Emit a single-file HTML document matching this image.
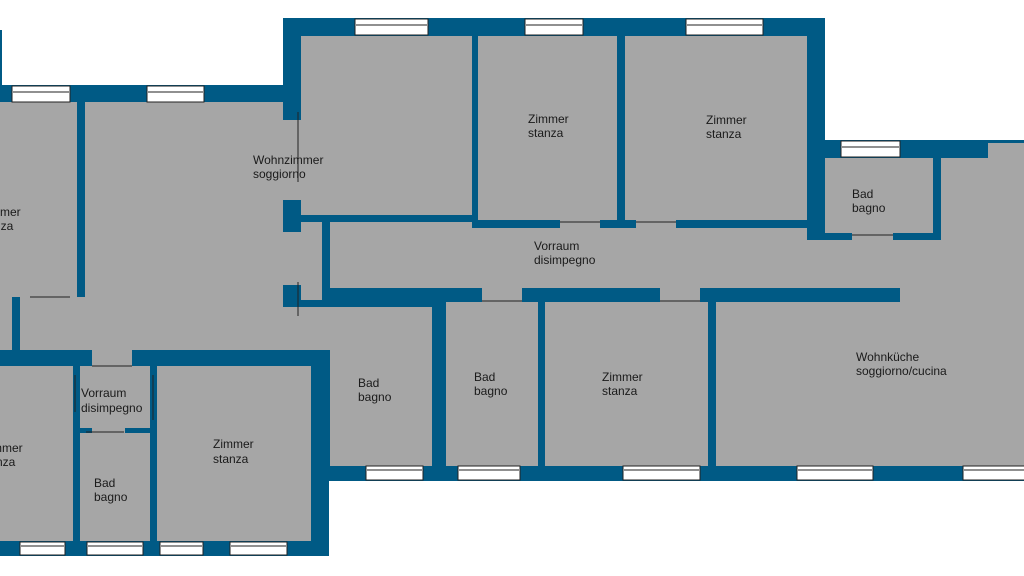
<!DOCTYPE html>
<html><head><meta charset="utf-8"><style>
html,body{margin:0;padding:0;background:#fff;}
svg{display:block;}
text{font-family:"Liberation Sans",sans-serif;font-size:12px;fill:#1a1a1a;}
</style></head><body>
<svg width="1024" height="576" viewBox="0 0 1024 576" xmlns="http://www.w3.org/2000/svg">
<rect width="1024" height="576" fill="#fff"/>
<g fill="#005a85">
<rect x="0" y="85" width="329" height="471"/>
<rect x="283" y="18" width="542" height="289"/>
<rect x="807" y="140" width="217" height="341"/>
<rect x="329" y="288" width="695" height="193"/>
<rect x="0" y="30" width="2" height="55"/>
</g>
<g fill="#a6a6a6">
<rect x="0" y="102" width="77" height="195"/>
<rect x="85" y="102" width="198" height="248"/>
<rect x="20" y="297" width="263" height="53"/>
<rect x="0" y="297" width="12" height="53"/>
<rect x="283" y="120" width="18" height="80"/>
<rect x="283" y="232" width="18" height="53"/>
<rect x="283" y="307" width="18" height="43"/>
<rect x="301" y="36" width="171" height="179"/>
<rect x="478" y="36" width="139" height="184"/>
<rect x="625" y="36" width="182" height="184"/>
<rect x="330" y="228" width="477" height="60"/>
<rect x="330" y="222" width="142" height="6"/>
<rect x="301" y="222" width="21" height="78"/>
<rect x="807" y="240" width="134" height="48"/>
<rect x="900" y="288" width="41" height="14"/>
<rect x="560" y="220" width="40" height="8"/>
<rect x="636" y="220" width="40" height="8"/>
<rect x="825" y="158" width="108" height="75"/>
<rect x="852" y="233" width="41" height="7"/>
<rect x="941" y="158" width="83" height="308"/>
<rect x="716" y="302" width="308" height="164"/>
<rect x="988" y="143" width="36" height="15"/>
<rect x="330" y="307" width="102" height="159"/>
<rect x="301" y="307" width="29" height="43"/>
<rect x="446" y="302" width="92" height="164"/>
<rect x="482" y="288" width="40" height="14"/>
<rect x="545" y="302" width="163" height="164"/>
<rect x="660" y="288" width="40" height="14"/>
<rect x="0" y="366" width="73" height="175"/>
<rect x="80" y="366" width="70" height="66"/>
<rect x="92" y="350" width="40" height="16"/>
<rect x="80" y="433" width="70" height="108"/>
<rect x="92" y="428" width="33" height="5"/>
<rect x="157" y="366" width="154" height="175"/>
</g>
<g fill="#005a85">
<rect x="80" y="428" width="12" height="5"/>
<rect x="125" y="428" width="25" height="5"/>
</g>
<g fill="#fff" stroke="#222" stroke-width="1">
<rect x="355" y="19" width="73" height="16"/>
<rect x="525" y="19" width="58" height="16"/>
<rect x="686" y="19" width="77" height="16"/>
<rect x="12" y="86" width="58" height="16"/>
<rect x="147" y="86" width="57" height="16"/>
<rect x="841" y="141" width="59" height="16"/>
<rect x="366" y="466" width="57" height="14"/>
<rect x="458" y="466" width="62" height="14"/>
<rect x="623" y="466" width="77" height="14"/>
<rect x="797" y="466" width="76" height="14"/>
<rect x="963" y="466" width="62" height="14"/>
<rect x="20" y="542" width="45" height="13"/>
<rect x="87" y="542" width="56" height="13"/>
<rect x="160" y="542" width="43" height="13"/>
<rect x="230" y="542" width="57" height="13"/>
</g>
<g stroke="#222" stroke-width="1">
<line x1="13" y1="92" x2="69" y2="92"/><line x1="148" y1="92" x2="203" y2="92"/>
<line x1="356" y1="25" x2="427" y2="25"/><line x1="526" y1="25" x2="582" y2="25"/><line x1="687" y1="25" x2="762" y2="25"/>
<line x1="842" y1="147" x2="899" y2="147"/>
<line x1="367" y1="470" x2="422" y2="470"/><line x1="459" y1="470" x2="519" y2="470"/>
<line x1="624" y1="470" x2="699" y2="470"/><line x1="798" y1="470" x2="872" y2="470"/>
<line x1="964" y1="470" x2="1024" y2="470"/>
<line x1="21" y1="546" x2="64" y2="546"/><line x1="88" y1="546" x2="142" y2="546"/>
<line x1="161" y1="546" x2="202" y2="546"/><line x1="231" y1="546" x2="286" y2="546"/>
<line x1="298" y1="112" x2="298" y2="182"/>
<line x1="298" y1="282" x2="298" y2="316"/>
<line x1="30" y1="297" x2="70" y2="297"/>
<line x1="92" y1="366" x2="132" y2="366"/>
<line x1="75" y1="375" x2="75" y2="412"/>
<line x1="153" y1="375" x2="153" y2="420"/>
<line x1="86" y1="432" x2="124" y2="432"/>
<line x1="560" y1="222" x2="600" y2="222"/>
<line x1="636" y1="222" x2="676" y2="222"/>
<line x1="852" y1="235" x2="893" y2="235"/>
<line x1="482" y1="301" x2="522" y2="301"/>
<line x1="660" y1="301" x2="700" y2="301"/>
</g>
<text x="253" y="164">Wohnzimmer</text><text x="253" y="178">soggiorno</text>
<text x="528" y="123">Zimmer</text><text x="528" y="137">stanza</text>
<text x="706" y="124">Zimmer</text><text x="706" y="138">stanza</text>
<text x="852" y="198">Bad</text><text x="852" y="212">bagno</text>
<text x="534" y="250">Vorraum</text><text x="534" y="264">disimpegno</text>
<text x="856" y="361">Wohnküche</text><text x="856" y="375">soggiorno/cucina</text>
<text x="358" y="387">Bad</text><text x="358" y="401">bagno</text>
<text x="474" y="381">Bad</text><text x="474" y="395">bagno</text>
<text x="602" y="381">Zimmer</text><text x="602" y="395">stanza</text>
<text x="213" y="448">Zimmer</text><text x="213" y="463">stanza</text>
<text x="81" y="397">Vorraum</text><text x="81" y="412">disimpegno</text>
<text x="94" y="487">Bad</text><text x="94" y="501">bagno</text>
<text x="-20" y="216">Zimmer</text><text x="-22" y="230">stanza</text>
<text x="-18" y="452">Zimmer</text><text x="-20" y="466">stanza</text>
</svg>
</body></html>
